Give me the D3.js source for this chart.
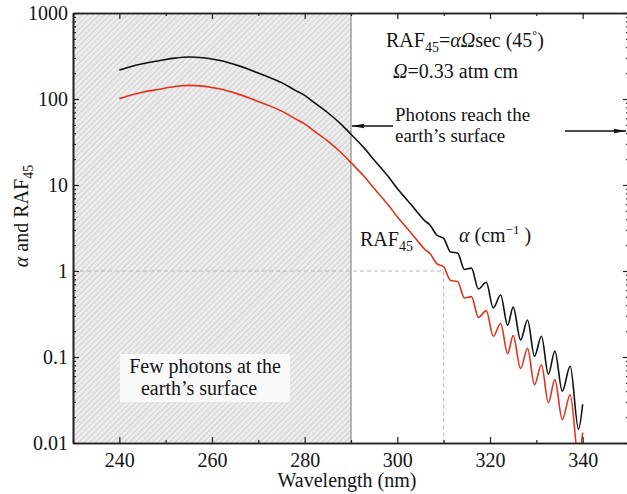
<!DOCTYPE html>
<html>
<head>
<meta charset="utf-8">
<script src="https://cdn.jsdelivr.net/npm/d3@7"></script>
<style>
  body { margin: 0; background: #fff; }
  svg text { font-family: "Liberation Serif", "Times New Roman", serif; fill: #151515; }
</style>
</head>
<body>
<div id="chart"></div>
<script>
// wavelength (nm) and the two curves
const wavelengths = [240, 242, 245, 248, 250, 252, 255, 258, 260, 262, 265, 268, 270, 272, 275, 278, 280, 282, 285, 288,
  290, 293, 295, 298, 300, 303, 305, 306, 307, 308.5, 310, 311.5, 313, 314.5, 316, 317.5, 319.2, 320.7, 322.3, 323.8,
  325, 326.6, 328.1, 329.6, 331.1, 332.6, 334, 335.6, 337.3, 339.1, 340]
const alphaValues = [217, 234, 257, 275, 288, 299, 308, 302, 292, 279, 251, 221, 200, 182, 155, 126, 110, 91.2, 69.2, 50.1,
  38.9, 26.3, 19.5, 12.6, 9.12, 5.89, 4.37, 3.80, 3.45, 2.62, 2.40, 1.66, 1.62, 1.04, 1.08, 0.617, 0.741, 0.372, 0.525, 0.234,
  0.380, 0.158, 0.269, 0.102, 0.174, 0.063, 0.117, 0.040, 0.078, 0.0145, 0.0282]
const rafValues = [101, 109, 120, 128, 134, 140, 144, 141, 136, 130, 117, 103, 93.3, 84.9, 72.3, 58.8, 51.3, 42.6, 32.3, 23.4,
  18.2, 12.3, 9.10, 5.88, 4.26, 2.75, 2.04, 1.77, 1.61, 1.22, 1.12, 0.775, 0.756, 0.485, 0.504, 0.288, 0.346, 0.174, 0.245, 0.109,
  0.177, 0.0737, 0.126, 0.0476, 0.0812, 0.0294, 0.0546, 0.0187, 0.0364, 0.00677, 0.0132]

const xTicks = [240, 260, 280, 300, 320, 340]
const xMinorTicks = [230, 250, 270, 290, 310, 330, 350]
const yTicks = [0.01, 0.1, 1, 10, 100, 1000]
const yTickLabels = ["0.01", "0.1", "1", "10", "100", "1000"]
const xDomain = [230, 350]
const surfaceLimit = 290
const rafOne = [310, 1]

const W = 627, H = 494
const margin = {top: 13, right: -2, bottom: 51, left: 73}

const svg = d3.select("#chart").append("svg")
  .attr("width", W)
  .attr("height", H)

const x = d3.scaleLinear().domain(xDomain).range([margin.left, W - margin.right])
const y = d3.scaleLog().domain([0.01, 1000]).range([H - margin.bottom, margin.top])

const defs = svg.append("defs")
const hatch = defs.append("pattern")
  .attr("id", "hatch")
  .attr("patternUnits", "userSpaceOnUse")
  .attr("width", 4).attr("height", 4)
  .attr("patternTransform", "rotate(45)")
hatch.append("rect").attr("width", 4).attr("height", 4).attr("fill", "#ededed")
hatch.append("line").attr("x1", 0).attr("y1", 0).attr("x2", 0).attr("y2", 4)
  .attr("stroke", "#b4b4b4").attr("stroke-width", 1)

defs.append("clipPath").attr("id", "plotClip")
  .append("rect")
  .attr("x", x(xDomain[0])).attr("y", y(1000))
  .attr("width", x(xDomain[1]) - x(xDomain[0]))
  .attr("height", y(0.01) - y(1000))

defs.append("marker")
  .attr("id", "arrow")
  .attr("viewBox", "0 0 12 6")
  .attr("refX", 12).attr("refY", 3)
  .attr("markerWidth", 12).attr("markerHeight", 6)
  .attr("markerUnits", "userSpaceOnUse")
  .attr("orient", "auto")
  .append("path").attr("d", "M0,0.8 L12,3 L0,5.2 Z").attr("fill", "#111")

// shaded region where few photons reach the ground
svg.append("rect")
  .attr("x", x(xDomain[0]))
  .attr("y", y(1000))
  .attr("width", x(surfaceLimit) - x(xDomain[0]))
  .attr("height", y(0.01) - y(1000))
  .attr("fill", "url(#hatch)")

// label box inside the shaded region
svg.append("rect")
  .attr("x", 120).attr("y", 354)
  .attr("width", 170).attr("height", 48)
  .attr("fill", "#f9f9f9")

// dashed guide at RAF = 1
svg.append("path")
  .attr("d", `M${x(xDomain[0])},${y(rafOne[1])}H${x(rafOne[0])}V${y(0.01)}`)
  .attr("fill", "none")
  .attr("stroke", "#b8b8b8")
  .attr("stroke-width", 1)
  .attr("stroke-dasharray", "4,3")

svg.append("line")
  .attr("x1", x(surfaceLimit)).attr("x2", x(surfaceLimit))
  .attr("y1", y(1000)).attr("y2", y(0.01))
  .attr("stroke", "#8a8a8a")
  .attr("stroke-width", 1.2)

// curves
const line = d3.line()
  .x(d => x(d[0]))
  .y(d => y(d[1]))
  .curve(d3.curveMonotoneX)

const curves = svg.append("g").attr("clip-path", "url(#plotClip)")
curves.append("path")
  .datum(wavelengths.map((w, i) => [w, rafValues[i]]))
  .attr("d", line)
  .attr("fill", "none")
  .attr("stroke", "#e2321e")
  .attr("stroke-width", 1.6)
curves.append("path")
  .datum(wavelengths.map((w, i) => [w, alphaValues[i]]))
  .attr("d", line)
  .attr("fill", "none")
  .attr("stroke", "#111")
  .attr("stroke-width", 1.6)

// axes with inward ticks
const yMinor = []
yTicks.slice(0, -1).forEach(d => {
  for (let k = 2; k <= 9; k++) yMinor.push(d * k)
})

function styleAxis(g) {
  g.selectAll("path.domain").attr("stroke", "#222").attr("stroke-width", 1.6)
  g.selectAll(".tick line").attr("stroke", "#222").attr("stroke-width", 1.2)
  g.selectAll("text")
    .style("font-family", "'Liberation Serif', serif")
    .style("font-size", "20px")
    .attr("fill", "#151515")
}

svg.append("g")
  .attr("transform", `translate(0,${y(0.01)})`)
  .call(d3.axisBottom(x).tickValues(xTicks).tickSizeInner(-6).tickSizeOuter(0).tickPadding(6).tickFormat(d3.format("d")))
  .call(styleAxis)
  .call(g => g.selectAll("text").attr("dy", "0.9em"))
svg.append("g")
  .attr("transform", `translate(0,${y(0.01)})`)
  .call(d3.axisBottom(x).tickValues(xMinorTicks).tickSizeInner(-3).tickSizeOuter(0).tickFormat(""))
  .call(styleAxis)

svg.append("g")
  .attr("transform", `translate(0,${y(1000)})`)
  .call(d3.axisTop(x).tickValues(xTicks).tickSizeInner(-6).tickSizeOuter(0).tickFormat(""))
  .call(styleAxis)
svg.append("g")
  .attr("transform", `translate(0,${y(1000)})`)
  .call(d3.axisTop(x).tickValues(xMinorTicks).tickSizeInner(-3).tickSizeOuter(0).tickFormat(""))
  .call(styleAxis)

svg.append("g")
  .attr("transform", `translate(${x(xDomain[0])},0)`)
  .call(d3.axisLeft(y).tickValues(yTicks).tickSizeInner(-6).tickSizeOuter(0).tickPadding(5)
    .tickFormat((d, i) => yTickLabels[i]))
  .call(styleAxis)
svg.append("g")
  .attr("transform", `translate(${x(xDomain[0])},0)`)
  .call(d3.axisLeft(y).tickValues(yMinor).tickSizeInner(-3).tickSizeOuter(0).tickFormat(""))
  .call(styleAxis)

svg.append("g")
  .attr("transform", `translate(${x(xDomain[1])},0)`)
  .call(d3.axisRight(y).tickValues(yTicks).tickSizeInner(-6).tickSizeOuter(0).tickFormat(""))
  .call(styleAxis)
svg.append("g")
  .attr("transform", `translate(${x(xDomain[1])},0)`)
  .call(d3.axisRight(y).tickValues(yMinor).tickSizeInner(-3).tickSizeOuter(0).tickFormat(""))
  .call(styleAxis)

// axis titles
svg.append("text")
  .attr("x", 347).attr("y", 487)
  .attr("text-anchor", "middle")
  .style("font-size", "20px")
  .text("Wavelength (nm)")

const yTitle = svg.append("text")
  .attr("transform", "translate(28,216) rotate(-90)")
  .attr("text-anchor", "middle")
  .style("font-size", "20px")
yTitle.append("tspan").style("font-style", "italic").text("α")
yTitle.append("tspan").text(" and RAF")
yTitle.append("tspan").attr("dy", 5).style("font-size", "14px").text("45")

// annotations
const t1 = svg.append("text").attr("x", 386).attr("y", 47).style("font-size", "20px")
t1.append("tspan").text("RAF")
t1.append("tspan").attr("dy", 5).style("font-size", "14px").text("45")
t1.append("tspan").attr("dy", -5).text("=")
t1.append("tspan").style("font-style", "italic").text("αΩ")
t1.append("tspan").text("sec (45")
t1.append("tspan").attr("dy", -8).style("font-size", "12px").text("°")
t1.append("tspan").attr("dy", 8).text(")")

const t2 = svg.append("text").attr("x", 393).attr("y", 78).style("font-size", "20px")
t2.append("tspan").style("font-style", "italic").text("Ω")
t2.append("tspan").text("=0.33 atm cm")

svg.append("text").attr("x", 395).attr("y", 121).style("font-size", "19px").text("Photons reach the")
svg.append("text").attr("x", 395).attr("y", 142).style("font-size", "19px").text("earth’s surface")

svg.append("line")
  .attr("x1", 393).attr("y1", 126).attr("x2", x(surfaceLimit) + 1).attr("y2", 126)
  .attr("stroke", "#111").attr("stroke-width", 1.3)
  .attr("marker-end", "url(#arrow)")
svg.append("line")
  .attr("x1", 565).attr("y1", 131).attr("x2", 626).attr("y2", 131)
  .attr("stroke", "#111").attr("stroke-width", 1.3)
  .attr("marker-end", "url(#arrow)")

svg.append("text").attr("x", 205).attr("y", 373).attr("text-anchor", "middle")
  .style("font-size", "20px").text("Few photons at the")
svg.append("text").attr("x", 199).attr("y", 395).attr("text-anchor", "middle")
  .style("font-size", "20px").text("earth’s surface")

const t3 = svg.append("text").attr("x", 459).attr("y", 242).style("font-size", "20px")
t3.append("tspan").style("font-style", "italic").text("α")
t3.append("tspan").text(" (cm")
t3.append("tspan").attr("dy", -8).style("font-size", "13px").text("−1")
t3.append("tspan").attr("dy", 8).text(" )")

const t4 = svg.append("text").attr("x", 360).attr("y", 246).style("font-size", "20px")
t4.append("tspan").text("RAF")
t4.append("tspan").attr("dy", 5).style("font-size", "14px").text("45")
</script>
</body>
</html>
